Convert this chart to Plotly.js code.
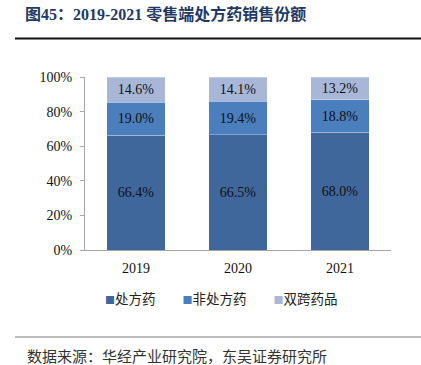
<!DOCTYPE html>
<html><head><meta charset="utf-8">
<script src="https://cdn.plot.ly/plotly-3.0.1.min.js"></script>
<style>html,body{margin:0;padding:0;background:#fff;}#chart{width:421px;height:365px;}</style>
</head><body><div id="chart"></div>
<script>
const years = ['2019', '2020', '2021'];
const seriesNames = ['处方药', '非处方药', '双跨药品'];
const rx = [66.4, 66.5, 68.0];
const otc = [19.0, 19.4, 18.8];
const dual = [14.6, 14.1, 13.2];
const yTicks = [0, 20, 40, 60, 80, 100];
const yTickLabels = ['0%', '20%', '40%', '60%', '80%', '100%'];

const colors = ['#3F679C', '#4A7EBD', '#A8B7D8'];
const serif = 'Liberation Serif, Times New Roman, serif';
const cjk = 'Noto Sans CJK SC, sans-serif';
const vals = [rx, otc, dual];
const traces = vals.map((v, i) => ({
  type: 'bar', x: years, y: v, name: seriesNames[i],
  marker: {color: colors[i], line: {color: 'rgba(255,255,255,0.6)', width: 0.5}},
  text: v.map(d => d.toFixed(1) + '%'), textposition: 'inside', insidetextanchor: 'middle',
  textfont: {family: serif, size: 14, color: '#111'}, hoverinfo: 'none', showlegend: false
}));

const legendText = seriesNames.map((n, i) =>
  '<span style="color:' + colors[i] + ';font-size:10px">■</span>' + n).join('　　');

const layout = {
  width: 421, height: 365, barmode: 'stack', bargap: 0.43,
  margin: {l: 85, r: 30, t: 77, b: 115},
  paper_bgcolor: '#fff', plot_bgcolor: '#fff',
  showlegend: false,
  xaxis: {showline: true, linecolor: '#A6A6A6', linewidth: 1, ticks: '', showgrid: false,
    ticklabelstandoff: 5,
    tickfont: {family: serif, size: 14, color: '#111'}, fixedrange: true},
  yaxis: {range: [0, 100], tickvals: yTicks, ticktext: yTickLabels, showline: true, linecolor: '#A6A6A6',
    linewidth: 1, ticks: 'outside', ticklen: 4, tickcolor: '#A6A6A6', showgrid: false, zeroline: false,
    ticklabelstandoff: 5,
    tickfont: {family: serif, size: 14, color: '#111'}, fixedrange: true},
  title: {text: '<b>图45：2019-2021 零售端处方药销售份额</b>', x: 25/421, xanchor: 'left', xref: 'container',
    y: 1 - 14/365, yanchor: 'middle', yref: 'container',
    font: {family: 'Liberation Serif, Noto Sans CJK SC, serif', size: 16, color: '#1F3864'}},
  shapes: [
    {type: 'line', xref: 'paper', yref: 'paper', x0: -70/306, x1: 336/306, y0: 1 + 38.5/173, y1: 1 + 38.5/173,
      line: {color: '#111', width: 2}},
    {type: 'line', xref: 'paper', yref: 'paper', x0: -70/306, x1: 336/306, y0: -(337-250)/173, y1: -(337-250)/173,
      line: {color: '#A6A6A6', width: 1.5}}
  ],
  annotations: [
    {text: legendText, xref: 'paper', yref: 'paper', x: (221-85)/306, xanchor: 'center',
      y: -(298-250)/173, yanchor: 'middle', showarrow: false, font: {family: cjk, size: 13.5, color: '#222'}},
    {text: '数据来源：华经产业研究院，东吴证券研究所', xref: 'paper', yref: 'paper', x: -60/306, xanchor: 'left',
      y: -(355-250)/173, yanchor: 'middle', showarrow: false, font: {family: cjk, size: 15, color: '#333'}}
  ]
};
Plotly.newPlot('chart', traces, layout, {displayModeBar: false, staticPlot: true});
</script></body></html>
